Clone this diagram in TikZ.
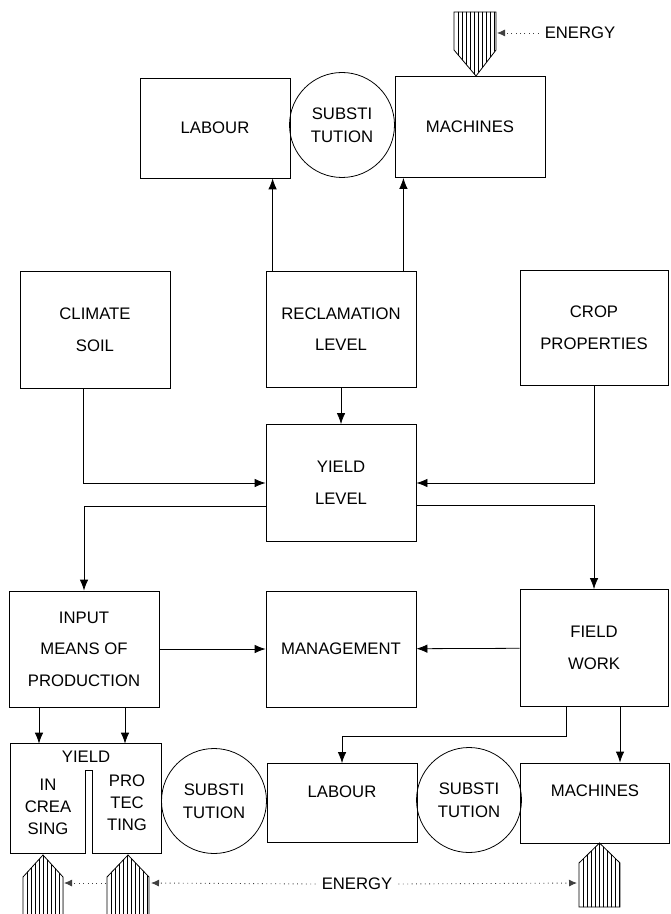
\documentclass[tikz,border=0pt]{standalone}
\usepackage{fontspec}
\setmainfont{Liberation Sans}
\usetikzlibrary{arrows.meta,positioning}

\begin{document}
\begin{tikzpicture}[
  x=0.2mm, y=-0.2mm,
  font=\fontsize{9.5}{18}\selectfont,
  >={Latex[length=2.2mm,width=1.7mm]},
  box/.style={draw,line width=0.45pt,minimum width=30mm,align=center,inner sep=1pt},
  subst/.style={draw,circle,line width=0.45pt,minimum size=21mm,align=center,inner sep=0pt,font=\fontsize{9.5}{13}\selectfont},
  small/.style={align=center,inner sep=1pt,font=\fontsize{9.5}{12.5}\selectfont},
  flow/.style={->,line width=0.45pt},
  feed/.style={->,dotted,line width=0.5pt,black!75,>={Latex[length=1.6mm,width=1.4mm]}},
  shaft/.style={line width=0.45pt},
  hatch/.style={line width=0.3pt}
]
\useasboundingbox (0,0) rectangle (670,914);

% upper substitution
\node[box,minimum height=20mm] (labT) at (215,128) {LABOUR};
\node[subst] (subT) at (342,125) {SUBSTI\\TUTION};
\node[box,minimum height=20.2mm] (macT) at (470,127) {MACHINES};

\node[box,minimum height=23.4mm] (clim) at (95,330) {CLIMATE\\SOIL};
\node[box,minimum height=23.2mm] (recl) at (341,329) {RECLAMATION\\LEVEL};
\node[box,minimum width=29.6mm,minimum height=23mm] (crop) at (594,328) {CROP\\PROPERTIES};

\node[box,minimum height=23.4mm] (yld) at (341,483) {YIELD\\LEVEL};

\node[box,minimum height=23.2mm] (inp) at (84,649) {INPUT\\MEANS OF\\PRODUCTION};
\node[box,minimum height=23.2mm] (mgt) at (341,649) {MANAGEMENT};
\node[box,minimum width=29.6mm,minimum height=23.4mm] (fld) at (594,648) {FIELD\\WORK};

% lower substitution
\node[minimum width=30mm,minimum height=21.8mm,inner sep=0pt] (yb) at (86,798.5) {};
\draw[shaft] (yb.south west) -- (yb.north west) -- (yb.north east) -- (yb.south east)
  -- ++(-13.8mm,0) -- ++(0,16.6mm) -- ++(-1.4mm,0) -- ++(0,-16.6mm) -- cycle;
\node[small] (yt) at (86,757) {YIELD};
\node[small] (inc) at (48,807) {IN\\CREA\\SING};
\node[small] (pro) at (127,803) {PRO\\TEC\\TING};
\node[subst] (subB1) at (214,801) {SUBSTI\\TUTION};
\node[box,minimum height=15.8mm,text depth=4.6mm] (labB) at (342,803) {LABOUR};
\node[subst] (subB2) at (469,800) {SUBSTI\\TUTION};
\node[box,minimum width=29.8mm,minimum height=16mm,text depth=5mm] (macB) at (595,803) {MACHINES};

% connectors
\draw[flow] ([xshift=1.4mm]recl.north west) -- ([xshift=1.4mm]recl.north west |- labT.south);
\draw[flow] ([xshift=-2.6mm]recl.north east) -- ([xshift=-2.6mm]recl.north east |- macT.south);
\draw[flow] (recl) -- (yld);
\draw[flow] ([xshift=-2.4mm]clim.south) |- (yld.west);
\draw[flow] (crop.south) |- (yld.east);
\draw[flow] ([yshift=-4.6mm]yld.west) -| (inp.north);
\draw[flow] ([yshift=-4.4mm]yld.east) -| (fld.north);
\draw[flow] (inp) -- (mgt);
\draw[flow] (fld) -- (mgt);
\draw[flow] ([xshift=-9mm]inp.south) -- ([xshift=-9mm]inp.south |- yb.north);
\draw[flow] ([xshift=8.2mm]inp.south) -- ([xshift=8.2mm]inp.south |- yb.north);
\draw[flow] ([xshift=-5.6mm]fld.south) -- ++(0,-5.8mm) -| (labB.north);
\draw[flow] ([xshift=5.2mm]fld.south) -- ([xshift=5.2mm]fld.south |- macB.north);

% energy
\draw[shaft] (454,12) -- (496,12) -- (496,50) -- (476,76) -- (454,50) -- cycle;
\begin{scope}
  \clip (454,12) -- (496,12) -- (496,50) -- (476,76) -- (454,50) -- cycle;
  \foreach \x in {458,462,...,494} \draw[hatch] (\x,0) -- (\x,80);
\end{scope}
\foreach \l/\r/\t/\s/\b in {23/63/855/877/918, 107/149/855/877/918, 579/620/843/863/907}{
  \draw[shaft] (\l,\b) -- (\l,\s) -- ({(\l+\r)/2},\t) -- (\r,\s) -- (\r,\b) -- cycle;
  \begin{scope}
    \clip (\l,\b) -- (\l,\s) -- ({(\l+\r)/2},\t) -- (\r,\s) -- (\r,\b) -- cycle;
    \foreach \k in {1,...,10} \draw[hatch] ({\l+4*\k},840) -- ({\l+4*\k},920);
  \end{scope}
}
\node (enT) at (580,33) {ENERGY};
\coordinate (eT) at (497,33);
\draw[feed] (enT.west) -- (eT);
\node (enB) at (357,884) {ENERGY};
\coordinate (e2r) at (151,883);
\coordinate (e2l) at (106,883);
\coordinate (e1r) at (64,883);
\coordinate (e3l) at (577,883);
\draw[feed] (enB.west) -- (e2r);
\draw[feed] (e2l) -- (e1r);
\draw[feed] (enB.east) -- (e3l);
\end{tikzpicture}
\end{document}
